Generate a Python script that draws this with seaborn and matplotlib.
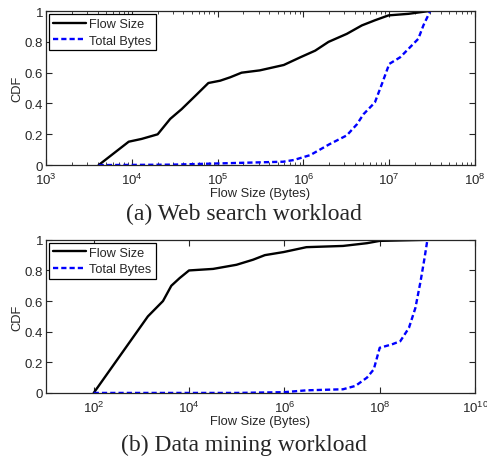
import numpy as np
import pandas as pd
import seaborn as sns
import matplotlib
matplotlib.use("Agg")
from matplotlib import pyplot as plt
from matplotlib import ticker

# (a) web search workload
web_flow_x = [4.1e3, 9.2e3, 1.3e4, 2.0e4, 2.8e4, 3.8e4, 5.5e4, 7.8e4, 1.07e5, 1.4e5,
              1.9e5, 3.1e5, 5.9e5, 9.2e5, 1.37e6, 1.96e6, 3.2e6, 4.8e6, 6.8e6, 9.8e6,
              1.67e7, 2.9e7]
web_flow_y = [0.0, 0.152, 0.17, 0.20, 0.30, 0.363, 0.45, 0.533, 0.548, 0.57,
              0.60, 0.615, 0.65, 0.70, 0.743, 0.80, 0.852, 0.907, 0.94, 0.972,
              0.982, 1.0]
web_bytes_x = [4.1e3, 3.0e4, 9.0e4, 5.8e5, 7.7e5, 1.2e6, 2.0e6, 3.2e6, 4.2e6, 5.0e6,
               6.8e6, 8.2e6, 1.0e7, 1.34e7, 1.67e7, 2.18e7, 2.5e7, 3.0e7]
web_bytes_y = [0.0, 0.003, 0.01, 0.022, 0.033, 0.065, 0.135, 0.193, 0.265, 0.33,
               0.407, 0.526, 0.657, 0.70, 0.754, 0.82, 0.907, 1.0]

# (b) data mining workload
dm_flow_x = [1e2, 1.37e3, 2.84e3, 4.25e3, 6.35e3, 1e4, 3.2e4, 9.9e4, 2.2e5, 3.9e5,
             9.6e5, 2.9e6, 1.7e7, 5.4e7, 1e8, 1e9]
dm_flow_y = [0.0, 0.50, 0.60, 0.70, 0.75, 0.80, 0.81, 0.837, 0.87, 0.90,
             0.92, 0.952, 0.96, 0.978, 0.993, 1.0]
dm_bytes_x = [1e2, 1e5, 1e6, 2.9e6, 1.7e7, 3.1e7, 5.4e7, 7.5e7, 1e8, 1.8e8,
              2.7e8, 4.1e8, 5.6e8, 7.2e8, 8.7e8, 1e9]
dm_bytes_y = [0.0, 0.0, 0.005, 0.017, 0.024, 0.046, 0.10, 0.154, 0.295, 0.317,
              0.338, 0.425, 0.555, 0.73, 0.88, 1.0]

series_names = ["Flow Size", "Total Bytes"]
captions = ["(a) Web search workload", "(b) Data mining workload"]

sns.set_style("ticks")
plt.rcParams["font.family"] = ["Liberation Sans", "DejaVu Sans"]
plt.rcParams["mathtext.fontset"] = "custom"
plt.rcParams["mathtext.rm"] = "Liberation Sans"
plt.rcParams["mathtext.it"] = "Liberation Sans:italic"
plt.rcParams["mathtext.default"] = "regular"


def make_df(fx, fy, bx, by):
    a = pd.DataFrame({"x": fx, "y": fy, "series": series_names[0]})
    b = pd.DataFrame({"x": bx, "y": by, "series": series_names[1]})
    return pd.concat([a, b], ignore_index=True)


fig = plt.figure(figsize=(4.87, 4.64), dpi=100)
ax1 = fig.add_axes([0.0945, 0.642, 0.881, 0.332])
ax2 = fig.add_axes([0.0945, 0.151, 0.881, 0.330])

panels = [
    (ax1, make_df(web_flow_x, web_flow_y, web_bytes_x, web_bytes_y), (1e3, 1e8)),
    (ax2, make_df(dm_flow_x, dm_flow_y, dm_bytes_x, dm_bytes_y), (1e1, 1e10)),
]

for i, (ax, df, xlim) in enumerate(panels):
    sns.lineplot(data=df, x="x", y="y", hue="series", style="series",
                 palette={"Flow Size": "black", "Total Bytes": "#0000ff"},
                 dashes={"Flow Size": "", "Total Bytes": (2.2, 1.3)},
                 linewidth=1.7, sort=False, ax=ax)
    ax.set_xscale("log")
    ax.set_xlim(*xlim)
    ax.set_ylim(0, 1)
    ax.set_yticks([0, 0.2, 0.4, 0.6, 0.8, 1])
    ax.set_yticklabels(["0", "0.2", "0.4", "0.6", "0.8", "1"])
    if i == 1:
        ax.set_xticks([1e2, 1e4, 1e6, 1e8, 1e10])
        ax.xaxis.set_minor_locator(ticker.NullLocator())
    else:
        ax.xaxis.set_major_locator(ticker.LogLocator(base=10, numticks=10))
        ax.xaxis.set_minor_locator(ticker.LogLocator(base=10, subs=np.arange(2, 10), numticks=20))
    ax.tick_params(which="both", direction="in", top=True, right=True, labelsize=9.5)
    ax.tick_params(axis="x", which="major", pad=5)
    ax.tick_params(axis="y", which="major", pad=2)
    ax.tick_params(which="major", length=4, width=0.8)
    ax.tick_params(which="minor", length=2, width=0.6)
    for sp in ax.spines.values():
        sp.set_linewidth(0.9)
    ax.set_xlabel("Flow Size (Bytes)", fontsize=9.3, labelpad=0)
    ax.set_ylabel("CDF", fontsize=9.3, labelpad=1)
    leg = ax.legend(loc="upper left", fontsize=9.2, frameon=True, fancybox=False,
                    borderaxespad=0.25, handlelength=2.6, handletextpad=0.25,
                    borderpad=0.3, labelspacing=0.35)
    leg.get_frame().set_edgecolor("black")
    leg.get_frame().set_linewidth(0.9)
    leg.get_frame().set_alpha(1)

fig.text(0.5, 1 - 214 / 464, captions[0], ha="center", va="center",
         fontsize=17, family=["Liberation Serif", "DejaVu Serif"])
fig.text(0.5, 1 - 445 / 464, captions[1], ha="center", va="center",
         fontsize=17, family=["Liberation Serif", "DejaVu Serif"])

fig.savefig("out.png", dpi=100, facecolor="white")
